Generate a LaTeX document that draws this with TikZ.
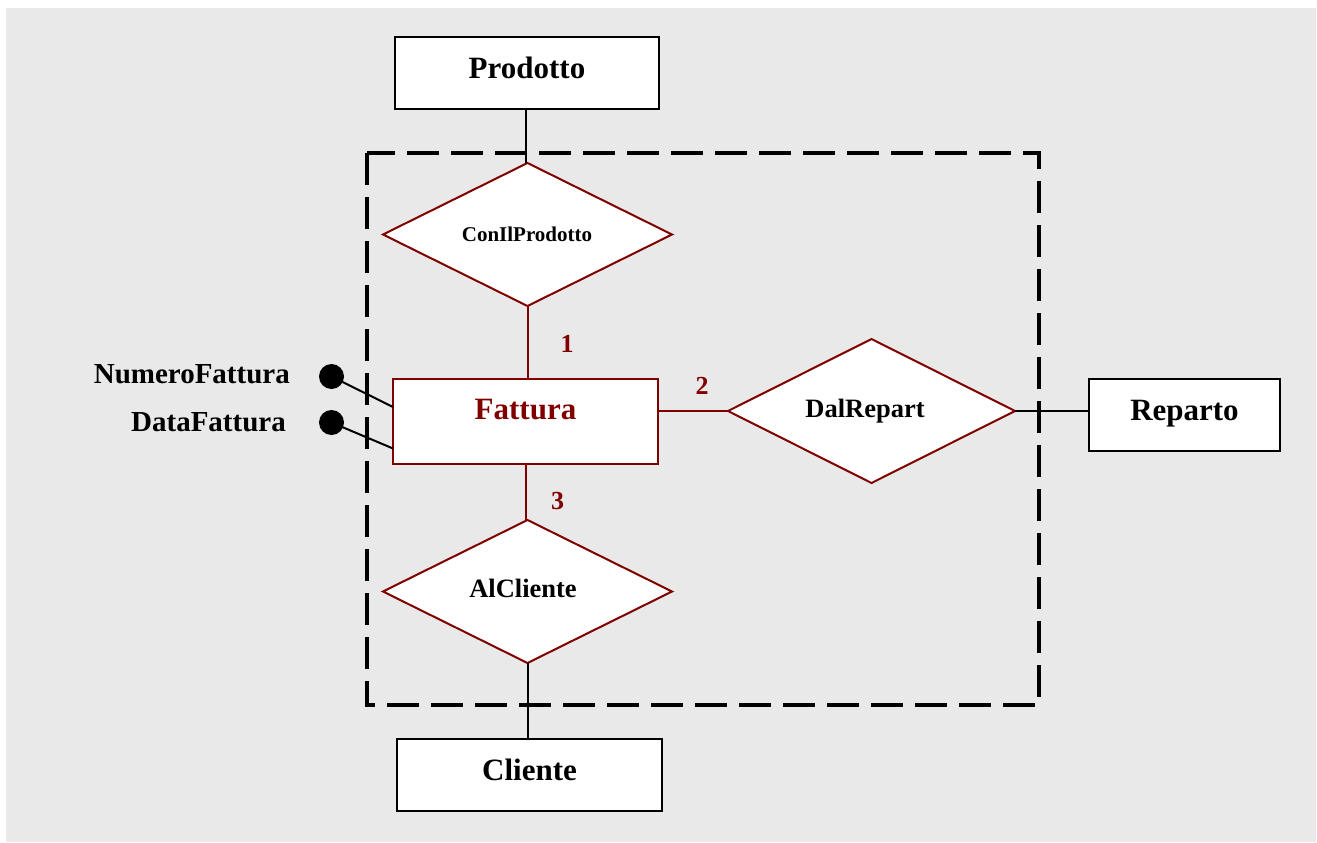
\documentclass[tikz,border=0pt]{standalone}
\usepackage{fontspec}
\setmainfont{Liberation Serif}
\usetikzlibrary{shapes.geometric}
\definecolor{bggrey}{RGB}{233,233,233}
\definecolor{dred}{RGB}{128,0,0}
\tikzset{
  entity/.style={draw=black, line width=2pt, fill=white, rectangle, inner sep=0pt, outer sep=0pt,
    font=\fontsize{31}{37}\selectfont\bfseries, text height=20.5pt, text depth=10.5pt},
  mainentity/.style={entity, draw=dred, text=dred, text depth=24pt},
  relation/.style={draw=dred, line width=2pt, fill=white, diamond, inner sep=0pt, outer sep=0pt,
    minimum width=289pt, minimum height=143pt},
  rellabel/.style={font=\fontsize{#1}{#1}\selectfont\bfseries},
  cardlabel/.style={text=dred, font=\fontsize{26}{30}\selectfont\bfseries, inner sep=0pt},
  attrlabel/.style={font=\fontsize{29}{34}\selectfont\bfseries, inner sep=0pt, anchor=east},
  attrdot/.style={circle, fill=black, draw=none, minimum size=25pt, inner sep=0pt},
  blackline/.style={draw=black, line width=2pt},
  redline/.style={draw=dred, line width=2pt},
  aggregate/.style={draw=black, line width=4pt, dash pattern=on 32pt off 12pt},
}
\begin{document}
\begin{tikzpicture}[x=1pt,y=-1pt]
  % canvas
  \useasboundingbox (0,0) rectangle (1317,843);
  \fill[bggrey] (6,8) rectangle (1316,842);

  % dashed frame round the aggregated relationship
  \draw[aggregate] (367,153) rectangle (1039,705);

  % entities
  \node[entity, minimum width=264pt, minimum height=72pt] (prodotto) at (527,73) {Prodotto};
  \node[entity, minimum width=191pt, minimum height=72pt] (reparto) at (1184.5,415) {Reparto};
  \node[entity, minimum width=265pt, minimum height=72pt] (cliente) at (529.5,775) {Cliente};
  \node[mainentity, minimum width=265pt, minimum height=85pt] (fattura) at (525.5,421.5) {Fattura};

  % relationships
  \node[relation] (conilprodotto) at (527.5,234.5) {};
  \node[rellabel=21] (conilprodottoText) at (527,234.5) {ConIlProdotto};
  \node[relation, minimum width=287pt, minimum height=144pt] (dalrepart) at (871.5,411) {};
  \node[rellabel=26.5] (dalrepartText) at (865,411) {DalRepart};
  \node[relation] (alcliente) at (527.5,591.5) {};
  \node[rellabel=26.5] (alclienteText) at (523,588) {AlCliente};

  % connectors
  \draw[blackline] ([xshift=-1.5pt]prodotto.south) -- ([xshift=-1.5pt]prodotto.south |- conilprodotto.north);
  \draw[redline] (conilprodotto.south) -- (conilprodotto.south |- fattura.north);
  \draw[redline] (fattura.east |- dalrepart.west) -- (dalrepart.west);
  \draw[blackline] (dalrepart.east) -- (reparto.west |- dalrepart.east);
  \draw[redline] (fattura.south) -- (fattura.south |- alcliente.north);
  \draw[blackline] (alcliente.south) -- (alcliente.south |- cliente.north);

  % cardinality labels
  \node[cardlabel] (card1) at (567,344) {1};
  \node[cardlabel] (card2) at (702,385.5) {2};
  \node[cardlabel] (card3) at (557.5,501) {3};

  % identifying attributes
  \node[attrdot] (numdot) at (331.5,376.5) {};
  \node[attrdot] (datadot) at (331.5,422.5) {};
  \draw[blackline] (numdot.center) -- ([yshift=14.5pt]fattura.west);
  \draw[blackline] (datadot.center) -- ([yshift=-27pt]fattura.west);
  \node[attrlabel] (numlabel) at (290,374) {NumeroFattura};
  \node[attrlabel] (datalabel) at (286,422) {DataFattura};
\end{tikzpicture}
\end{document}
